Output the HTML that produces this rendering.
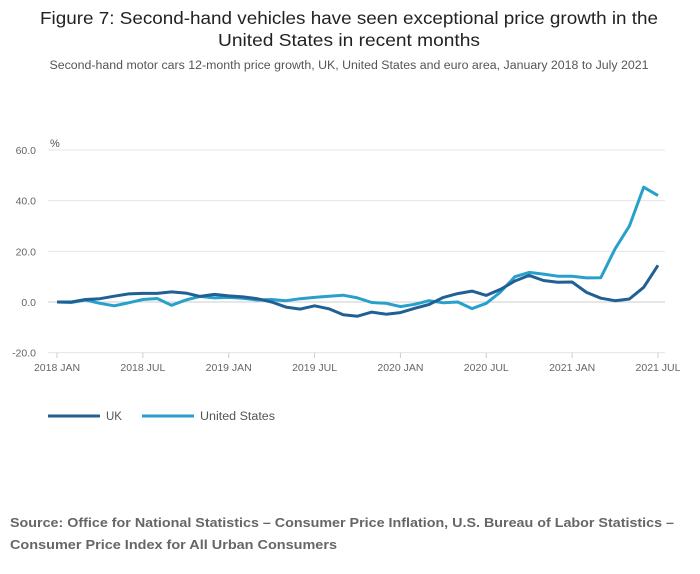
<!DOCTYPE html>
<html><head><meta charset="utf-8"><style>
body{margin:0;background:#fff;font-family:"Liberation Sans",sans-serif;}
#wrap{position:relative;width:700px;height:574px;overflow:hidden}
</style></head><body>
<div id="wrap">
<svg id="svg" width="700" height="574">
<text x="349" y="24" text-anchor="middle" font-size="17.5" fill="#222" textLength="618" lengthAdjust="spacingAndGlyphs">Figure 7: Second-hand vehicles have seen exceptional price growth in the</text>
<text x="349" y="46" text-anchor="middle" font-size="17.5" fill="#222" textLength="262" lengthAdjust="spacingAndGlyphs">United States in recent months</text>
<text x="349" y="69" text-anchor="middle" font-size="11.5" fill="#555" textLength="599" lengthAdjust="spacingAndGlyphs">Second-hand motor cars 12-month price growth, UK, United States and euro area, January 2018 to July 2021</text>
<text x="50" y="147" font-size="11" fill="#555">%</text>
<g id="grid"></g><g id="series"></g>
<line x1="48" y1="416" x2="100" y2="416" stroke="#206095" stroke-width="3"/>
<text x="106" y="420" font-size="11.5" fill="#555">UK</text>
<line x1="142" y1="416" x2="194" y2="416" stroke="#27a0cc" stroke-width="3"/>
<text x="200" y="420" font-size="11.5" fill="#555" textLength="75" lengthAdjust="spacingAndGlyphs">United States</text>
<text x="10" y="527" font-size="13" font-weight="bold" fill="#666" textLength="664" lengthAdjust="spacingAndGlyphs">Source: Office for National Statistics – Consumer Price Inflation, U.S. Bureau of Labor Statistics –</text>
<text x="10" y="549" font-size="13" font-weight="bold" fill="#666" textLength="327" lengthAdjust="spacingAndGlyphs">Consumer Price Index for All Urban Consumers</text>
</svg></div>
<script>
const yTicks=[60,40,20,0,-20];
const xTickLabels=["2018 JAN","2018 JUL","2019 JAN","2019 JUL","2020 JAN","2020 JUL","2021 JAN","2021 JUL"];
const ukValues=[0,0,1,1.3,2.3,3.2,3.4,3.4,4,3.5,2.2,3,2.4,2,1.3,0,-2,-2.8,-1.5,-2.7,-5,-5.6,-4,-4.8,-4.2,-2.5,-1,1.8,3.3,4.3,2.6,5,8.3,10.5,8.5,7.8,7.9,3.8,1.5,0.5,1.2,5.8,14.5];
const usValues=[0,-0.2,0.8,-0.5,-1.5,-0.3,1,1.4,-1.3,0.8,2.2,1.6,1.8,1.5,0.8,1,0.5,1.3,1.8,2.3,2.7,1.6,-0.2,-0.5,-1.8,-0.9,0.5,-0.3,0,-2.6,-0.5,4,10,11.7,11,10.2,10.2,9.5,9.6,21,30,45.3,42];
const NS="http://www.w3.org/2000/svg";
const x=i=>57+i*(601/42);
const y=v=>302-v*(152/60);
function mk(t,a,p){const e=document.createElementNS(NS,t);for(const k in a)e.setAttribute(k,a[k]);p.appendChild(e);return e;}
const grid=document.getElementById('grid'),ser=document.getElementById('series');
yTicks.forEach(v=>{
 const l=mk('line',{x1:48,x2:665,y1:y(v),y2:y(v),stroke:v===0?'#ccc':'#e4e4e4'},grid);
 
 
 const t=mk('text',{x:36,y:y(v)+4,'text-anchor':'end','font-size':10.5,fill:'#666'},grid);
 t.textContent=v.toFixed(1);
 
 
});
xTickLabels.forEach((s,i)=>{
 const xx=x(i*6);
 const l=mk('line',{x1:xx,x2:xx,y1:353,y2:358,stroke:'#ccc'},grid);
 
 
 const t=mk('text',{x:xx,y:371,'text-anchor':'middle','font-size':10.5,fill:'#666'},grid);
 t.textContent=s;
 
 
});
function line(vals,col,name){
 const p=mk('path',{d:vals.map((v,i)=>(i?'L':'M')+x(i).toFixed(1)+','+y(v).toFixed(1)).join(''),fill:'none',stroke:col,'stroke-width':3,'stroke-linejoin':'round'},ser);
 
 
}
line(usValues,'#27a0cc','us-line');
line(ukValues,'#206095','uk-line');
</script>
</body></html>
